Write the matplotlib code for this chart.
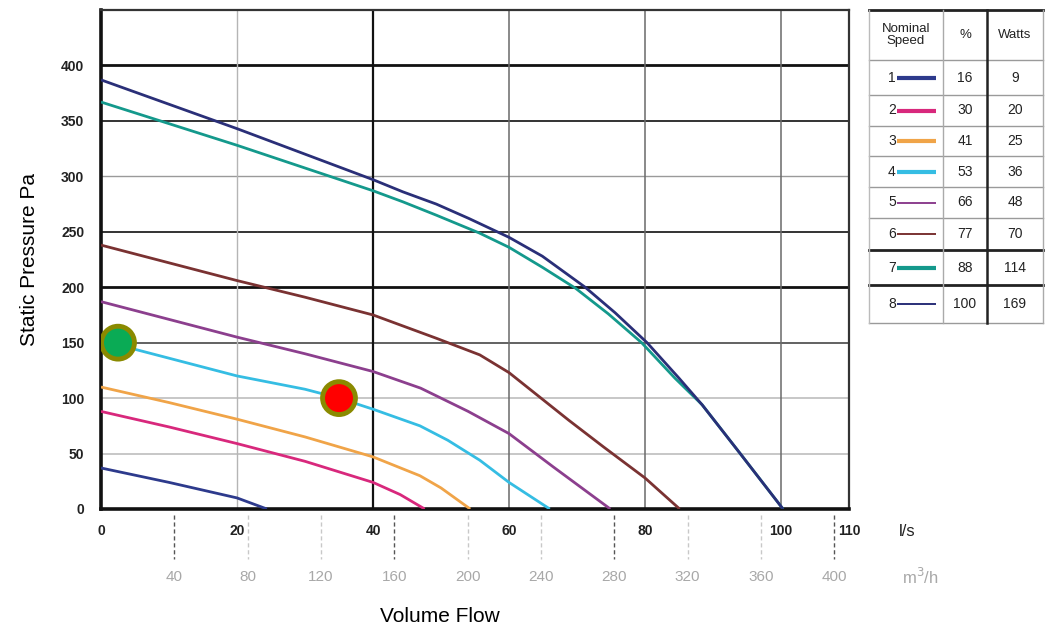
import matplotlib
matplotlib.use('Agg')
import matplotlib.pyplot as plt
import matplotlib.transforms as mtransforms

plt.rcParams['font.family'] = ['Liberation Sans Narrow', 'Liberation Sans', 'DejaVu Sans']

# fan curves, volume flow (l/s) vs static pressure (Pa), one per nominal speed
flow_1 = [0, 10, 20, 24.4]
pres_1 = [37, 24, 10, 0]
flow_2 = [0, 10, 20, 30, 40, 44, 47.6]
pres_2 = [88, 74, 59, 43, 24, 13, 0]
flow_3 = [0, 10, 20, 30, 40, 46.9, 50, 54.3]
pres_3 = [110, 96, 81, 65, 47, 30, 19, 0]
flow_4 = [0, 10, 20, 30, 35, 40, 46.9, 51, 55.7, 60, 66]
pres_4 = [152, 136, 120, 108, 100, 90, 75, 62, 44, 24, 0]
flow_5 = [0, 10, 20, 30, 40, 47, 54, 60, 66.5, 74.9]
pres_5 = [187, 171, 155, 140, 124, 109, 88, 68, 38, 0]
flow_6 = [0, 10, 20, 30, 40, 49.3, 55.7, 60, 68.8, 73.9, 80, 85.1]
pres_6 = [238, 222, 206, 191, 175, 154, 139, 123, 80, 56, 28, 0]
flow_7 = [0, 20, 40, 44.4, 49.3, 55.6, 60, 64.9, 69.8, 74.6, 79.5, 84.4, 88.4, 94, 100.3]
pres_7 = [367, 328, 287, 277, 265, 249, 236, 218, 199, 176, 150, 118, 94, 50, 0]
flow_8 = [0, 20, 40, 44.4, 49.3, 54.1, 60, 64.9, 71.2, 75.6, 80.3, 85, 88.4, 94, 100.3]
pres_8 = [387, 343, 297, 286, 275, 262, 245, 228, 200, 177, 150, 118, 94, 50, 0]

speeds = [1, 2, 3, 4, 5, 6, 7, 8]
percent = [16, 30, 41, 53, 66, 77, 88, 100]
watts = [9, 20, 25, 36, 48, 70, 114, 169]
colors = ['#2d3a8c', '#d8287c', '#f0a448', '#35bde3', '#8c3f8e', '#7a3232', '#14998c', '#2a2f78']
thick = [True, True, True, True, False, False, True, False]

# operating points
op_flow = [2.5, 35]
op_pres = [150, 100]
op_fill = ['#0aab55', '#ff0000']

x_ticks = [0, 20, 40, 60, 80, 100, 110]
y_ticks = [0, 50, 100, 150, 200, 250, 300, 350, 400]
m3h_ticks = [40, 80, 120, 160, 200, 240, 280, 320, 360, 400]
M3H_PER_LS = 3.71

flows = [flow_1, flow_2, flow_3, flow_4, flow_5, flow_6, flow_7, flow_8]
pressures = [pres_1, pres_2, pres_3, pres_4, pres_5, pres_6, pres_7, pres_8]

fig = plt.figure(figsize=(10.54, 6.31), dpi=100)
ax = fig.add_axes([101/1054, 1 - 509/631, 748/1054, 499/631])
ax.set_xlim(0, 110)
ax.set_ylim(0, 450)

# grid, drawn line by line since the weights differ
h_grid = {400: ('#111111', 2.0), 350: ('#333333', 1.4), 300: ('#9a9a9a', 1.0),
          250: ('#333333', 1.4), 200: ('#111111', 2.0), 150: ('#555555', 1.3),
          100: ('#bdbdbd', 1.2), 50: ('#bdbdbd', 1.2)}
for yv, (c, lw) in h_grid.items():
    ax.axhline(yv, color=c, lw=lw, zorder=1)
v_grid = {20: ('#b5b5b5', 1.0), 40: ('#111111', 1.6), 60: ('#6a6a6a', 1.1),
          80: ('#6a6a6a', 1.1), 100: ('#6a6a6a', 1.1)}
for xv, (c, lw) in v_grid.items():
    ax.axvline(xv, color=c, lw=lw, zorder=1)

for fx, py, c in zip(flows, pressures, colors):
    ax.plot(fx, py, color=c, lw=2.0, zorder=3, solid_capstyle='butt', solid_joinstyle='round')

ax.scatter(op_flow, op_pres, s=560, c=op_fill, edgecolors='#8a8a00', linewidths=3.5, zorder=5)

for side in ['left', 'bottom']:
    ax.spines[side].set_linewidth(2.6)
    ax.spines[side].set_color('#111111')
for side in ['top', 'right']:
    ax.spines[side].set_linewidth(1.6)
    ax.spines[side].set_color('#333333')

ax.set_yticks(y_ticks)
ax.set_yticklabels([str(v) for v in y_ticks], fontsize=10, fontweight='bold', color='#222222')
ax.set_xticks(x_ticks)
ax.set_xticklabels([str(v) for v in x_ticks], fontsize=10, fontweight='bold', color='#222222')
ax.tick_params(axis='both', length=0)
ax.tick_params(axis='y', pad=12)
ax.tick_params(axis='x', pad=11)

ax.set_ylabel('Static Pressure Pa', fontsize=15, labelpad=16)
ax.text(118.5, -20, 'l/s', fontsize=12, ha='center', va='center', color='#222222')

# second flow scale in m3/h underneath
trans = mtransforms.blended_transform_factory(ax.transData, ax.transAxes)
for i, m in enumerate(m3h_ticks):
    xm = m / M3H_PER_LS
    dark = (m % 120 == 40)
    ax.plot([xm, xm], [-0.012, -0.1], transform=trans, clip_on=False,
            color='#555555' if dark else '#c8c8c8', lw=1.0, ls=(0, (3, 2)))
    ax.text(xm, -0.137, str(m), transform=trans, fontsize=11, color='#a8a8a8',
            ha='center', va='center')
ax.text(120.5, -0.137, 'm$^3$/h', transform=trans, fontsize=12, color='#a8a8a8',
        ha='center', va='center')

fig.text(440/1054, 1 - 617/631, 'Volume Flow', fontsize=15, ha='center', va='center')

# speed / power table on the right
tax = fig.add_axes([0, 0, 1, 1])
tax.set_xlim(0, 1054)
tax.set_ylim(631, 0)
tax.axis('off')

row_edges = [10, 60, 95, 126, 156, 187, 218, 250, 285, 323]
tx0, tx1, tx2, tx3 = 869, 943, 987, 1043
tax.plot([tx0, tx3], [row_edges[0]] * 2, color='#222222', lw=2.0)
for ry in row_edges[1:]:
    if ry in (250, 285):
        tax.plot([tx0, tx3], [ry, ry], color='#222222', lw=2.0)
    else:
        tax.plot([tx0, tx3], [ry, ry], color='#9a9a9a', lw=1.0)
tax.plot([tx0, tx0], [row_edges[0], row_edges[-1]], color='#bbbbbb', lw=1.0)
tax.plot([tx1, tx1], [row_edges[0], row_edges[-1]], color='#aaaaaa', lw=1.0)
tax.plot([tx2, tx2], [row_edges[0], row_edges[-1]], color='#222222', lw=1.8)
tax.plot([tx3, tx3], [row_edges[0], row_edges[-1]], color='#aaaaaa', lw=1.0)

hy = (row_edges[0] + row_edges[1]) / 2
tax.text((tx0 + tx1) / 2, hy, 'Nominal\nSpeed', fontsize=9.5, ha='center', va='center',
         linespacing=0.95, color='#222222')
tax.text((tx1 + tx2) / 2, hy, '%', fontsize=9.5, ha='center', va='center', color='#222222')
tax.text((tx2 + tx3) / 2, hy, 'Watts', fontsize=9.5, ha='center', va='center', color='#222222')

for i in range(len(speeds)):
    ry = (row_edges[i + 1] + row_edges[i + 2]) / 2
    tax.text(892, ry, str(speeds[i]), fontsize=10, ha='center', va='center', color='#222222')
    tax.plot([897, 936], [ry, ry], color=colors[i], lw=3.0 if thick[i] else 1.4,
             solid_capstyle='butt')
    tax.text((tx1 + tx2) / 2, ry, str(percent[i]), fontsize=10, ha='center', va='center',
             color='#222222')
    tax.text((tx2 + tx3) / 2, ry, str(watts[i]), fontsize=10, ha='center', va='center',
             color='#222222')

fig.savefig('out.png', dpi=100)
